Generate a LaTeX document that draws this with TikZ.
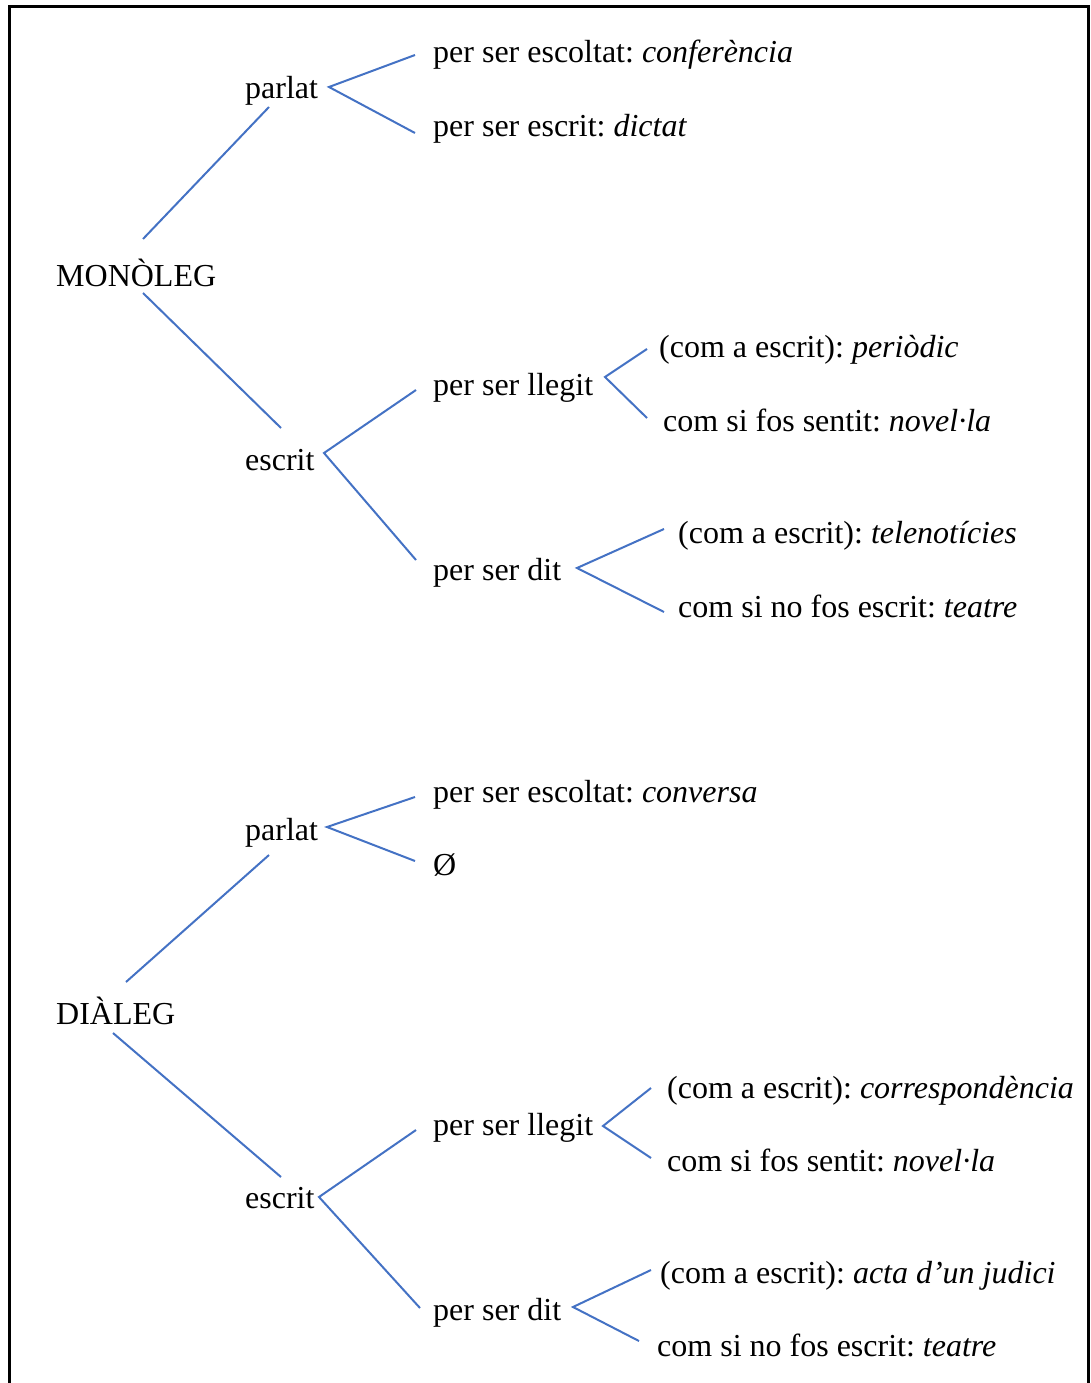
\documentclass[tikz,border=0pt]{standalone}
\usepackage{fontspec}
\setmainfont{Liberation Serif}
\frenchspacing
\tikzset{
  lbl/.style={anchor=base west, inner sep=0pt, font=\fontsize{32}{38}\selectfont\frenchspacing},
  br/.style={draw=brblue, line width=2pt},
  frm/.style={draw=black, line width=3pt}
}
\definecolor{brblue}{HTML}{4472C4}
\begin{document}
\begin{tikzpicture}[x=1pt,y=-1pt]
\useasboundingbox (0,0) rectangle (1090,1383);
% frame (open at the bottom)
\draw[frm] (9.5,1390) -- (9.5,7) -- (1088.5,7) -- (1088.5,1390);

% ---------- MONOLEG ----------
\node[lbl] (mono) at (56,286) {MONÒLEG};
\node[lbl] (parlA) at (245,99) {parlat};
\node[lbl] (escrA) at (245,470) {escrit};
\node[lbl] (escoltA) at (433,63) {per ser escoltat: \textit{conferència}};
\node[lbl] (escritA) at (433,137) {per ser escrit: \textit{dictat}};
\node[lbl] (llegA) at (433,395) {per ser llegit};
\node[lbl] (ditA) at (433,580) {per ser dit};
\node[lbl] (perioA) at (659,357) {(com a escrit): \textit{periòdic}};
\node[lbl] (novA) at (663,431) {com si fos sentit: \textit{novel·la}};
\node[lbl] (teleA) at (678,543) {(com a escrit): \textit{telenotícies}};
\node[lbl] (teaA) at (678,617) {com si no fos escrit: \textit{teatre}};

\coordinate (m1) at (143,239); \coordinate (pA1) at (269,107);
\coordinate (m2) at (143,293); \coordinate (eA1) at (281,428);
\coordinate (pAv) at (329,87); \coordinate (pAu) at (415,55); \coordinate (pAd) at (415,133);
\coordinate (eAv) at (324,453); \coordinate (eAu) at (416,390); \coordinate (eAd) at (416,560);
\coordinate (lAv) at (605,377); \coordinate (lAu) at (647,349); \coordinate (lAd) at (647,418);
\coordinate (dAv) at (577,568); \coordinate (dAu) at (664,529); \coordinate (dAd) at (664,612);

\draw[br] (m1) -- (pA1);
\draw[br] (m2) -- (eA1);
\draw[br] (pAu) -- (pAv) -- (pAd);
\draw[br] (eAu) -- (eAv) -- (eAd);
\draw[br] (lAu) -- (lAv) -- (lAd);
\draw[br] (dAu) -- (dAv) -- (dAd);

% ---------- DIALEG ----------
\node[lbl] (dial) at (56,1024) {DIÀLEG};
\node[lbl] (parlB) at (245,840) {parlat};
\node[lbl] (escrB) at (245,1208) {escrit};
\node[lbl] (escoltB) at (433,802) {per ser escoltat: \textit{conversa}};
\node[lbl] (buit) at (433,875) {Ø};
\node[lbl] (llegB) at (433,1135) {per ser llegit};
\node[lbl] (ditB) at (433,1320) {per ser dit};
\node[lbl] (corrB) at (667,1098) {(com a escrit): \textit{correspondència}};
\node[lbl] (novB) at (667,1171) {com si fos sentit: \textit{novel·la}};
\node[lbl] (actaB) at (660,1283) {(com a escrit): \textit{acta d’un judici}};
\node[lbl] (teaB) at (657,1356) {com si no fos escrit: \textit{teatre}};

\coordinate (d1) at (126,982); \coordinate (pB1) at (269,855);
\coordinate (d2) at (113,1033); \coordinate (eB1) at (281,1177);
\coordinate (pBv) at (327,827); \coordinate (pBu) at (415,797); \coordinate (pBd) at (415,861);
\coordinate (eBv) at (319,1197); \coordinate (eBu) at (416,1130); \coordinate (eBd) at (420,1308);
\coordinate (lBv) at (603,1126); \coordinate (lBu) at (651,1088); \coordinate (lBd) at (651,1158);
\coordinate (dBv) at (573,1307); \coordinate (dBu) at (651,1270); \coordinate (dBd) at (639,1341);

\draw[br] (d1) -- (pB1);
\draw[br] (d2) -- (eB1);
\draw[br] (pBu) -- (pBv) -- (pBd);
\draw[br] (eBu) -- (eBv) -- (eBd);
\draw[br] (lBu) -- (lBv) -- (lBd);
\draw[br] (dBu) -- (dBv) -- (dBd);
\end{tikzpicture}
\end{document}
